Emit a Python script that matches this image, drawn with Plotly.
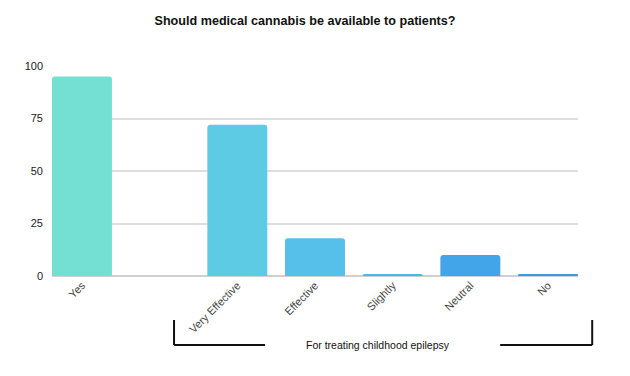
import plotly.graph_objects as go

categories = ["Yes", " ", "Very Effective", "Effective", "Slightly", "Neutral", "No"]
values = [95, None, 72, 18, 1, 10, 0.5]
colors = ["#74e0d4", "#74e0d4", "#5ecbe4", "#56bfea", "#4db4ea", "#42a5ea", "#3b9ae0"]
y_ticks = [0, 25, 50, 75, 100]
title = "Should medical cannabis be available to patients?"
group_label = "For treating childhood epilepsy"

fig = go.Figure(go.Bar(
    x=categories, y=values, marker=dict(color=colors, line=dict(width=0)),
    width=0.772, hoverinfo="skip",
))

fig.update_layout(
    width=622, height=368,
    margin=dict(l=44, r=52, t=58, b=100),
    paper_bgcolor="white", plot_bgcolor="white",
    barcornerradius=3,
    showlegend=False,
    font=dict(family="Liberation Sans, Arial, sans-serif", color="#333", size=11),
    title=dict(text="<b>" + title + "</b>", x=0.4775, xanchor="center", y=0.967, yanchor="middle",
               font=dict(size=12.6, color="#111")),
    xaxis=dict(type="category", range=[-0.386, 6.386], tickangle=-45, showgrid=False,
               showline=False, ticks="", tickfont=dict(size=11, color="#444")),
    yaxis=dict(range=[0, 100], tickvals=y_ticks, showgrid=True, gridcolor="#dedede", gridwidth=1.5,
               zeroline=True, zerolinecolor="#d0d0d0", zerolinewidth=1.5, ticks="",
               tickfont=dict(size=11, color="#222"), ticklabelstandoff=8),
)

line = dict(color="#111", width=2)
fig.add_shape(type="line", xref="paper", yref="paper", x0=0.232, x1=0.232, y0=-0.2095, y1=-0.3286, line=line)
fig.add_shape(type="line", xref="paper", yref="paper", x0=0.232, x1=0.405, y0=-0.3286, y1=-0.3286, line=line)
fig.add_shape(type="line", xref="paper", yref="paper", x0=0.852, x1=1.027, y0=-0.3286, y1=-0.3286, line=line)
fig.add_shape(type="line", xref="paper", yref="paper", x0=1.027, x1=1.027, y0=-0.2095, y1=-0.3286, line=line)
fig.add_annotation(text=group_label, xref="paper", yref="paper", x=0.619, y=-0.3286,
                   showarrow=False, xanchor="center", yanchor="middle",
                   font=dict(size=10.5, color="#111"))

fig.write_html("out.html")
